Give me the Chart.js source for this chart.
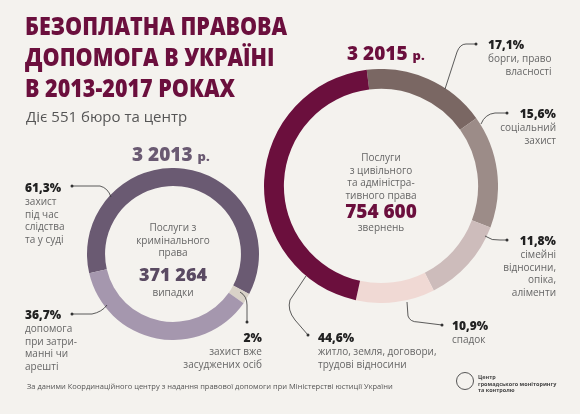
<!DOCTYPE html>
<html><head><meta charset="utf-8">
<script src="https://cdn.jsdelivr.net/npm/chart.js@4"></script>
<style>
body{margin:0;width:580px;height:414px;background:#f4f2ee;font-family:"Open Sans",sans-serif;position:relative;overflow:hidden;color:#555}
.a{position:absolute}
h1{position:absolute;left:25px;top:10px;margin:0;font:800 25px/31px "Open Sans",sans-serif;color:#6b0f3d;transform:scaleX(0.86);transform-origin:0 0;white-space:nowrap}
.p{font-weight:800;color:#222;font-size:12px;line-height:15px}
.t{font-size:10px;line-height:12.5px;color:#666}
.c{text-align:center}
</style></head><body>
<canvas id="c1" class="a" style="left:87px;top:168px" width="172" height="172"></canvas>
<canvas id="c2" class="a" style="left:264px;top:69px" width="234" height="234"></canvas>
<h1>БЕЗОПЛАТНА ПРАВОВА<br>ДОПОМОГА В УКРАЇНІ<br>В 2013-2017 РОКАХ</h1>
<div class="a" style="left:26px;top:106px;font-size:15px;color:#555">Діє 551 бюро та центр</div>
<svg class="a" style="left:0;top:0" width="580" height="414">
<g fill="none" stroke="#333" stroke-width="0.8">
<path d="M72,186 L100,186 Q108,188 111,197"/><path d="M72,314 L92,314 Q102,312 107,305"/>
<path d="M240,292 Q247,296 247,305 L247,322"/>
<path d="M445,89 L457,52 Q460,44 466,44 L476,44"/><path d="M481,124 Q485,114 495,113 L507,113"/>
<path d="M485,236 Q492,241 500,240 L507,240"/><path d="M407,302 L408,316 Q410,322 418,322 L442,325"/>
<path d="M306,276 L290,300 Q287,310 295,320 L308,335"/>
</g>
<g fill="#333"><circle cx="72" cy="186" r="1.5"/><circle cx="72" cy="314" r="1.5"/><circle cx="247" cy="322" r="1.5"/><circle cx="476" cy="44" r="1.5"/><circle cx="507" cy="113" r="1.5"/><circle cx="507" cy="240" r="1.5"/><circle cx="442" cy="325" r="1.5"/><circle cx="308" cy="335" r="1.5"/></g>
</svg>
<div class="a" style="left:132px;top:141px;font:800 19px 'Open Sans';color:#6a5a72">3 2013 <span style="font-size:13px">р.</span></div>
<div class="a" style="left:347px;top:40px;font:800 19px 'Open Sans';color:#6b0f3d">3 2015 <span style="font-size:13px">р.</span></div>
<div class="a c t" style="left:123px;top:221px;width:100px">Послуги з<br>кримінального<br>права</div>
<div class="a c" style="left:123px;top:262px;width:100px;font:800 18px 'Open Sans';color:#5a4a62">371 264</div>
<div class="a c t" style="left:123px;top:286px;width:100px">випадки</div>
<div class="a c t" style="left:321px;top:151px;width:120px">Послуги<br>з цивільного<br>та адміністра-<br>тивного права</div>
<div class="a c" style="left:321px;top:198px;width:120px;font:800 19px 'Open Sans';color:#6b0f3d">754 600</div>
<div class="a c t" style="left:321px;top:221px;width:120px">звернень</div>
<div class="a" style="left:25px;top:180px"><div class="p">61,3%</div><div class="t">захист<br>під час<br>слідства<br>та у суді</div></div>
<div class="a" style="left:25px;top:307px"><div class="p">36,7%</div><div class="t">допомога<br>при затри-<br>манні чи<br>арешті</div></div>
<div class="a" style="left:160px;top:330px;width:102px;text-align:right"><div class="p">2%</div><div class="t">захист вже<br>засуджених осіб</div></div>
<div class="a" style="left:488px;top:37px"><div class="p">17,1%</div><div class="t" style="text-align:right">борги, право<br>власності</div></div>
<div class="a" style="left:480px;top:106px;width:76px;text-align:right"><div class="p">15,6%</div><div class="t">соціальний<br>захист</div></div>
<div class="a" style="left:480px;top:233px;width:76px;text-align:right"><div class="p">11,8%</div><div class="t">сімейні<br>відносини,<br>опіка,<br>аліменти</div></div>
<div class="a" style="left:452px;top:318px"><div class="p">10,9%</div><div class="t">спадок</div></div>
<div class="a" style="left:318px;top:330px"><div class="p">44,6%</div><div class="t">житло, земля, договори,<br>трудові відносини</div></div>
<div class="a" style="left:27px;top:381px;font-size:7.5px;color:#555">За даними Координаційного центру з надання правової допомоги при Міністерстві юстиції України</div>
<div class="a" style="left:456px;top:372px;width:16px;height:16px;border:1.2px solid #555;border-radius:50%"></div>
<div class="a" style="left:478px;top:374px;font-size:5.5px;line-height:6.5px;color:#444;font-weight:700">Центр<br>громадського моніторингу<br>та контролю</div>
<script>
const cats2013=["захист під час слідства та у суді","захист вже засуджених осіб","допомога при затриманні чи арешті"];
const vals2013=[61.3,2,36.7];
const cats2015=["борги, право власності","соціальний захист","сімейні відносини, опіка, аліменти","спадок","житло, земля, договори, трудові відносини"];
const vals2015=[17.1,15.6,11.8,10.9,44.6];
const base={responsive:false,animation:false,plugins:{legend:{display:false},tooltip:{enabled:false}},layout:{padding:0}};
new Chart(document.getElementById('c1'),{type:'doughnut',data:{labels:cats2013,datasets:[{data:vals2013,backgroundColor:['#6a5a72','#d9d2c8','#a597ae'],borderWidth:0}]},options:{...base,cutout:'79%',rotation:-103}});
new Chart(document.getElementById('c2'),{type:'doughnut',data:{labels:cats2015,datasets:[{data:vals2015,backgroundColor:['#7a6763','#9c8c88','#cdbcbb','#f0d9d4','#6b0f3d'],borderWidth:0}]},options:{...base,cutout:'83%',rotation:-7}});
</script>
</body></html>
